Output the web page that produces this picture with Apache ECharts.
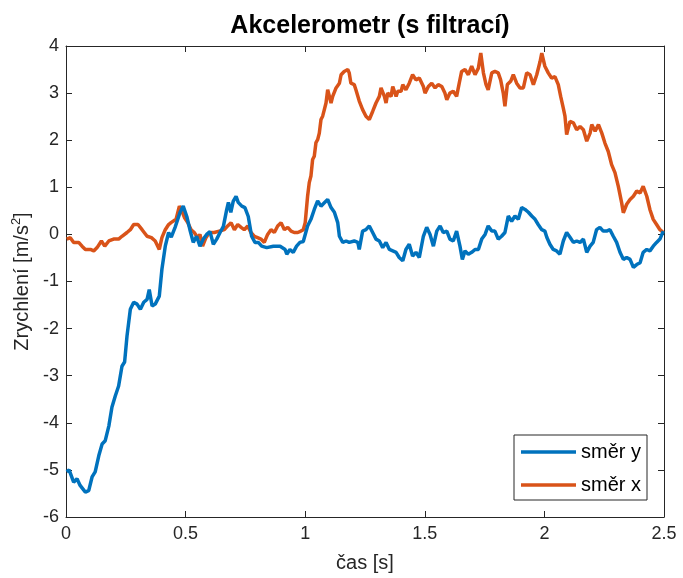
<!DOCTYPE html>
<html>
<head>
<meta charset="utf-8">
<script src="https://cdn.jsdelivr.net/npm/echarts@6/dist/echarts.min.js"></script>
<style>
  html, body { margin: 0; padding: 0; background: #fff; }
  #chart { width: 683px; height: 578px; }
</style>
</head>
<body>
<div id="chart"></div>
<script>
// time samples [s] and acceleration [m/s^2]
const tY = [0.003, 0.013, 0.032, 0.046, 0.059, 0.081, 0.095, 0.109, 0.122, 0.137, 0.151, 0.164, 0.179, 0.192, 0.206, 0.220, 0.234, 0.245, 0.255, 0.269, 0.283, 0.297, 0.311, 0.325, 0.339, 0.348, 0.360, 0.373, 0.390, 0.401, 0.415, 0.429, 0.440, 0.456, 0.477, 0.490, 0.505, 0.518, 0.532, 0.546, 0.560, 0.574, 0.588, 0.602, 0.616, 0.630, 0.644, 0.658, 0.672, 0.679, 0.689, 0.699, 0.711, 0.720, 0.735, 0.748, 0.762, 0.776, 0.790, 0.804, 0.818, 0.839, 0.867, 0.895, 0.916, 0.923, 0.936, 0.950, 0.964, 0.978, 0.992, 1.010, 1.024, 1.038, 1.052, 1.066, 1.080, 1.094, 1.108, 1.122, 1.136, 1.143, 1.157, 1.171, 1.184, 1.205, 1.220, 1.226, 1.240, 1.254, 1.268, 1.282, 1.296, 1.310, 1.324, 1.338, 1.352, 1.366, 1.380, 1.393, 1.408, 1.421, 1.435, 1.449, 1.463, 1.477, 1.494, 1.508, 1.522, 1.536, 1.550, 1.564, 1.577, 1.592, 1.605, 1.619, 1.633, 1.647, 1.657, 1.668, 1.682, 1.696, 1.710, 1.724, 1.738, 1.752, 1.765, 1.780, 1.793, 1.807, 1.821, 1.835, 1.849, 1.863, 1.877, 1.891, 1.905, 1.919, 1.933, 1.947, 1.961, 1.974, 1.989, 2.002, 2.010, 2.023, 2.037, 2.051, 2.065, 2.079, 2.093, 2.107, 2.121, 2.135, 2.149, 2.163, 2.177, 2.191, 2.204, 2.218, 2.232, 2.246, 2.260, 2.274, 2.288, 2.302, 2.316, 2.330, 2.344, 2.358, 2.372, 2.386, 2.400, 2.413, 2.428, 2.441, 2.455, 2.469, 2.483, 2.497];
const accY = [-5.04, -5.0, -5.26, -5.19, -5.33, -5.47, -5.44, -5.15, -5.04, -4.7, -4.45, -4.38, -4.07, -3.67, -3.43, -3.22, -2.8, -2.71, -2.16, -1.59, -1.44, -1.48, -1.59, -1.44, -1.38, -1.17, -1.52, -1.48, -1.31, -0.74, -0.25, 0.04, -0.06, 0.15, 0.47, 0.6, 0.38, 0.1, -0.17, -0.04, -0.25, -0.1, 0, 0.06, -0.21, -0.1, 0.04, 0.17, 0.53, 0.68, 0.47, 0.7, 0.81, 0.68, 0.6, 0.57, 0.38, -0.04, -0.17, -0.17, -0.25, -0.28, -0.25, -0.25, -0.32, -0.42, -0.32, -0.38, -0.25, -0.17, -0.15, 0.18, 0.32, 0.53, 0.71, 0.6, 0.67, 0.74, 0.57, 0.47, 0.25, -0.04, -0.17, -0.14, -0.17, -0.14, -0.17, -0.32, 0.07, 0.1, 0.18, 0.04, -0.1, -0.14, -0.28, -0.17, -0.32, -0.35, -0.38, -0.49, -0.56, -0.32, -0.21, -0.46, -0.38, -0.49, -0.04, 0.15, 0, -0.25, 0.07, 0.18, 0.04, 0.07, -0.1, -0.14, 0.07, -0.25, -0.53, -0.35, -0.42, -0.38, -0.32, -0.32, -0.1, 0, 0.18, 0.07, 0.07, -0.1, -0.04, 0.04, 0.39, 0.28, 0.39, 0.32, 0.57, 0.53, 0.47, 0.39, 0.32, 0.21, 0.1, 0.07, -0.06, -0.21, -0.32, -0.35, -0.42, -0.14, 0.04, -0.06, -0.17, -0.14, -0.17, -0.1, -0.38, -0.25, -0.17, 0.1, 0.15, 0.07, 0.07, 0.1, -0.04, -0.17, -0.38, -0.53, -0.49, -0.53, -0.7, -0.64, -0.6, -0.38, -0.32, -0.35, -0.25, -0.17, -0.1, 0.07];

const tX = [0.003, 0.018, 0.032, 0.053, 0.067, 0.081, 0.102, 0.116, 0.130, 0.148, 0.162, 0.179, 0.199, 0.220, 0.234, 0.255, 0.269, 0.283, 0.301, 0.318, 0.339, 0.357, 0.373, 0.390, 0.401, 0.415, 0.429, 0.439, 0.460, 0.474, 0.485, 0.495, 0.509, 0.523, 0.536, 0.551, 0.560, 0.571, 0.585, 0.599, 0.620, 0.641, 0.662, 0.676, 0.690, 0.704, 0.718, 0.732, 0.745, 0.760, 0.773, 0.787, 0.801, 0.815, 0.829, 0.843, 0.857, 0.871, 0.885, 0.899, 0.913, 0.927, 0.941, 0.954, 0.969, 0.982, 0.992, 1.000, 1.010, 1.017, 1.024, 1.031, 1.038, 1.045, 1.052, 1.059, 1.066, 1.073, 1.080, 1.087, 1.094, 1.101, 1.108, 1.115, 1.129, 1.143, 1.150, 1.163, 1.178, 1.184, 1.191, 1.205, 1.212, 1.226, 1.240, 1.254, 1.268, 1.282, 1.296, 1.310, 1.317, 1.324, 1.331, 1.338, 1.345, 1.359, 1.366, 1.380, 1.387, 1.401, 1.408, 1.421, 1.435, 1.449, 1.463, 1.477, 1.494, 1.501, 1.515, 1.529, 1.543, 1.556, 1.571, 1.584, 1.592, 1.605, 1.619, 1.633, 1.644, 1.654, 1.668, 1.682, 1.696, 1.710, 1.724, 1.734, 1.745, 1.756, 1.765, 1.780, 1.793, 1.807, 1.817, 1.828, 1.835, 1.845, 1.859, 1.870, 1.884, 1.898, 1.912, 1.926, 1.940, 1.954, 1.968, 1.982, 1.989, 1.995, 2.002, 2.016, 2.030, 2.044, 2.058, 2.068, 2.079, 2.086, 2.093, 2.107, 2.121, 2.135, 2.149, 2.163, 2.177, 2.191, 2.198, 2.212, 2.226, 2.240, 2.253, 2.267, 2.281, 2.295, 2.309, 2.323, 2.330, 2.344, 2.358, 2.372, 2.386, 2.400, 2.413, 2.428, 2.441, 2.455, 2.469, 2.483, 2.497];
const accX = [-0.1, -0.07, -0.17, -0.17, -0.25, -0.32, -0.32, -0.35, -0.28, -0.14, -0.25, -0.14, -0.1, -0.1, -0.04, 0.04, 0.1, 0.21, 0.21, 0.1, -0.04, -0.07, -0.14, -0.32, -0.07, 0.1, 0.21, 0.25, 0.32, 0.6, 0.49, 0.36, 0.25, 0.1, 0.04, -0.07, 0, -0.25, -0.07, 0.04, 0.04, 0.07, 0.1, 0.18, 0.25, 0.1, 0.21, 0.15, 0.1, 0.18, 0.04, -0.04, -0.07, -0.1, -0.17, 0, 0.1, 0.04, 0.18, 0.25, 0.1, 0.15, 0.07, 0.04, 0.04, 0.07, 0.1, 0.25, 0.81, 1.1, 1.24, 1.59, 1.66, 1.95, 2.01, 2.15, 2.44, 2.51, 2.65, 2.79, 3.07, 3.11, 2.79, 2.93, 3.11, 3.21, 3.39, 3.46, 3.5, 3.43, 3.21, 3.18, 3.07, 2.83, 2.65, 2.51, 2.44, 2.61, 2.79, 2.93, 3.11, 3.14, 2.93, 2.79, 3.0, 2.93, 3.14, 2.93, 3.04, 3.04, 3.18, 3.07, 3.21, 3.39, 3.28, 3.32, 3.14, 3.0, 3.14, 3.21, 3.11, 3.18, 3.14, 3.0, 2.86, 3.0, 3.04, 2.93, 3.21, 3.46, 3.5, 3.39, 3.57, 3.39, 3.53, 3.85, 3.43, 3.18, 3.07, 3.43, 3.46, 3.43, 3.28, 3.0, 2.72, 3.18, 3.25, 3.39, 3.21, 3.11, 3.11, 3.43, 3.39, 3.18, 3.39, 3.67, 3.85, 3.81, 3.57, 3.43, 3.32, 3.35, 3.18, 2.93, 2.68, 2.51, 2.12, 2.4, 2.37, 2.22, 2.29, 2.22, 1.98, 2.15, 2.33, 2.19, 2.33, 2.15, 1.94, 1.76, 1.48, 1.31, 1.02, 0.67, 0.46, 0.64, 0.74, 0.81, 0.92, 0.88, 1.02, 0.81, 0.53, 0.32, 0.21, 0.1, 0.04];

const seriesNames = ["směr y", "směr x"];
const xTicks = [0, 0.5, 1, 1.5, 2, 2.5];

const chart = echarts.init(document.getElementById("chart"));

const axisCol = "#262626";
const font = "'Liberation Sans', Arial, Helvetica, sans-serif";

const boxAxis = {
  axisLine: { show: true, onZero: false, lineStyle: { color: axisCol, width: 1 } },
  axisTick: { show: true, inside: true, length: 6, lineStyle: { color: axisCol } },
  splitLine: { show: false },
};

chart.setOption({
  backgroundColor: "#fff",
  animation: false,
  textStyle: { fontFamily: font },
  title: {
    text: "Akcelerometr (s filtrací)",
    left: 365,
    top: 9,
    textAlign: "center",
    textStyle: { fontSize: 25, fontWeight: "bold", color: "#000", fontFamily: font },
  },
  grid: { left: 66, right: 19, top: 46, bottom: 60 },
  legend: {
    data: seriesNames,
    orient: "vertical",
    right: 36,
    bottom: 78,
    backgroundColor: "#fff",
    borderColor: axisCol,
    borderWidth: 1,
    padding: [7, 6, 5, 7],
    itemWidth: 55,
    itemHeight: 14,
    itemGap: 13,
    icon: "path://M0,0 L56,0 L56,3.5 L0,3.5 Z",
    textStyle: { fontSize: 20, color: "#000", fontFamily: font },
  },
  xAxis: [
    Object.assign({
      type: "value",
      min: xTicks[0],
      max: xTicks[xTicks.length - 1],
      interval: 0.5,
      name: "čas [s]",
      nameLocation: "middle",
      nameGap: 36,
      nameTextStyle: { fontSize: 20, color: axisCol },
      axisLabel: { fontSize: 18, color: axisCol, margin: 8 },
    }, boxAxis),
    Object.assign({
      type: "value",
      position: "top",
      min: xTicks[0],
      max: xTicks[xTicks.length - 1],
      interval: 0.5,
      axisLabel: { show: false },
    }, boxAxis),
  ],
  yAxis: [
    Object.assign({
      type: "value",
      min: -6,
      max: 4,
      interval: 1,
      name: "Zrychlení [m/s{sup|2}]",
      nameLocation: "middle",
      nameGap: 31,
      nameTextStyle: {
        fontSize: 20,
        color: axisCol,
        rich: { sup: { fontSize: 13, verticalAlign: "bottom", padding: [0, 0, 11, 0], color: axisCol } },
      },
      axisLabel: { fontSize: 18, color: axisCol, margin: 7 },
    }, boxAxis),
    Object.assign({
      type: "value",
      position: "right",
      min: -6,
      max: 4,
      interval: 1,
      axisLabel: { show: false },
    }, boxAxis),
  ],
  series: [
    {
      name: seriesNames[0],
      type: "line",
      data: tY.map((t, i) => [t, accY[i]]),
      showSymbol: false,
      symbol: "none",
      lineStyle: { color: "#0072BD", width: 3.5 },
      itemStyle: { color: "#0072BD" },
      z: 3,
    },
    {
      name: seriesNames[1],
      type: "line",
      data: tX.map((t, i) => [t, accX[i]]),
      showSymbol: false,
      symbol: "none",
      lineStyle: { color: "#D95319", width: 3.5 },
      itemStyle: { color: "#D95319" },
      z: 2,
    },
  ],
});
</script>
</body>
</html>
